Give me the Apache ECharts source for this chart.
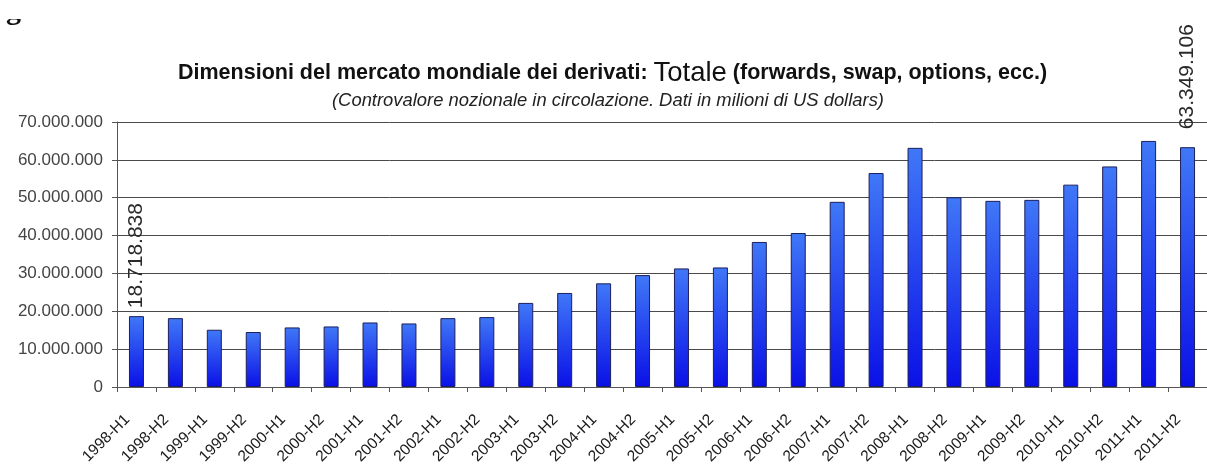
<!DOCTYPE html>
<html>
<head>
<meta charset="utf-8">
<script src="https://cdn.jsdelivr.net/npm/echarts@6/dist/echarts.min.js"></script>
<style>
  html, body { margin: 0; padding: 0; background: #ffffff; }
  #chart { width: 1207px; height: 467px; }
</style>
</head>
<body>
<div id="chart"></div>
<script>
// Semestri (H1/H2) dal 1998 al 2011
const categories = [
  '1998-H1', '1998-H2', '1999-H1', '1999-H2', '2000-H1', '2000-H2', '2001-H1',
  '2001-H2', '2002-H1', '2002-H2', '2003-H1', '2003-H2', '2004-H1', '2004-H2',
  '2005-H1', '2005-H2', '2006-H1', '2006-H2', '2007-H1', '2007-H2', '2008-H1',
  '2008-H2', '2009-H1', '2009-H2', '2010-H1', '2010-H2', '2011-H1', '2011-H2'
];

// Controvalore nozionale in circolazione, milioni di US dollars
const totale = [
  18718838, 18190000, 15120000, 14520000, 15730000, 15990000, 17040000,
  16780000, 18190000, 18460000, 22210000, 24840000, 27380000, 29560000,
  31320000, 31580000, 38310000, 40670000, 48910000, 56520000, 63170000,
  50120000, 49170000, 49430000, 53450000, 58260000, 65000000, 63349106
];

// Valori dell'asse verticale
const yTicks = [0, 10000000, 20000000, 30000000, 40000000, 50000000, 60000000, 70000000];

// Barre con etichetta del valore (primo e ultimo semestre) e distanza dell'etichetta
const labelled = { 0: 8, 27: 18 };

function fmtIt(n) {
  return String(Math.round(n)).replace(/\B(?=(\d{3})+(?!\d))/g, '.');
}

const FONT = '"Liberation Sans", Arial, sans-serif';

const barData = totale.map((v, i) => {
  if (labelled[i] === undefined) return v;
  return {
    value: v,
    label: {
      show: true,
      position: 'top',
      rotate: 90,
      align: 'left',
      verticalAlign: 'middle',
      distance: labelled[i],
      formatter: (p) => fmtIt(p.value),
      fontFamily: FONT,
      fontSize: 21,
      color: '#2a2a2a'
    }
  };
});

const chart = echarts.init(document.getElementById('chart'), null, { renderer: 'canvas' });

chart.setOption({
  backgroundColor: '#ffffff',
  animation: false,
  graphic: [
    {
      type: 'text',
      x: 178,
      y: 73,
      z: 5,
      style: {
        text: '{b|Dimensioni del mercato mondiale dei derivati: }{t|Totale}{b| (forwards, swap, options, ecc.)}',
        verticalAlign: 'middle',
        rich: {
          b: { fontFamily: FONT, fontSize: 21.5, fontWeight: 'bold', fill: '#111111' },
          t: { fontFamily: FONT, fontSize: 27.5, fontWeight: 'normal', fill: '#111111' }
        }
      }
    },
    {
      type: 'text',
      x: 332,
      y: 101,
      z: 5,
      style: {
        text: '(Controvalore nozionale in circolazione. Dati in milioni di US dollars)',
        verticalAlign: 'middle',
        font: 'italic 18.4px "Liberation Sans", Arial, sans-serif',
        fill: '#222222'
      }
    },
    {
      type: 'text',
      left: 6,
      top: -4,
      z: 1,
      style: { text: 'g', font: 'bold 30px "Liberation Serif", serif', fill: '#111111' }
    },
    {
      type: 'rect',
      shape: { x: 0, y: 0, width: 40, height: 19 },
      z: 2,
      style: { fill: '#ffffff' }
    }
  ],
  grid: {
    left: 117,
    top: 122,
    right: -9,
    bottom: 77.4,
    containLabel: false
  },
  xAxis: {
    type: 'category',
    data: categories,
    boundaryGap: true,
    axisLine: { show: true, lineStyle: { color: '#555555', width: 1 } },
    axisTick: { show: true, length: 5, interval: 0, lineStyle: { color: '#555555' } },
    axisLabel: {
      interval: 0,
      rotate: 45,
      margin: 21,
      padding: [0, 13, 0, 0],
      fontFamily: FONT,
      fontSize: 15.5,
      color: '#1a1a1a'
    },
    splitLine: { show: false }
  },
  yAxis: {
    type: 'value',
    min: yTicks[0],
    max: yTicks[yTicks.length - 1],
    interval: yTicks[1] - yTicks[0],
    axisLine: { show: true, lineStyle: { color: '#555555', width: 1 } },
    axisTick: { show: true, length: 5, lineStyle: { color: '#555555' } },
    axisLabel: {
      margin: 14,
      fontFamily: FONT,
      fontSize: 17,
      color: '#444444',
      formatter: (v) => fmtIt(v)
    },
    splitLine: { show: true, lineStyle: { color: '#4a4a4a', width: 1 } }
  },
  series: [
    {
      type: 'bar',
      data: barData,
      barWidth: 15,
      itemStyle: {
        color: new echarts.graphic.LinearGradient(0, 0, 0, 1, [
          { offset: 0, color: '#4078f7' },
          { offset: 1, color: '#0a10e6' }
        ]),
        borderColor: '#1c1f5c',
        borderWidth: 1
      }
    }
  ]
});
</script>
</body>
</html>
